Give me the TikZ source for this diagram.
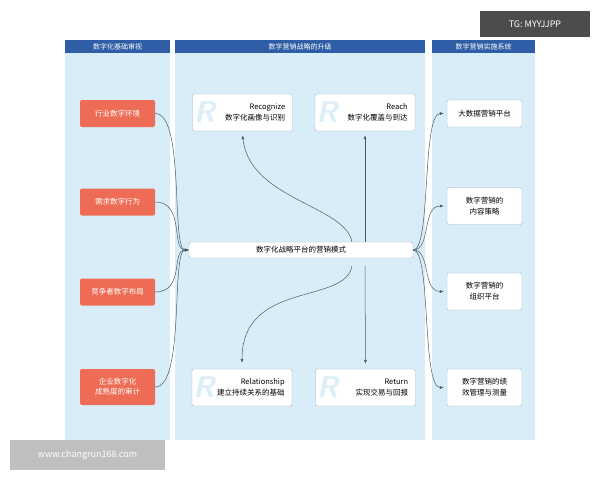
\documentclass[tikz,border=0pt]{standalone}
\usepackage{fontspec}
\setmainfont{Noto Sans CJK SC}
\usetikzlibrary{arrows.meta}
\definecolor{bgc}{HTML}{D8EDF8}
\definecolor{hdr}{HTML}{2F5DA6}
\definecolor{org}{HTML}{EE6C55}
\definecolor{bdr}{HTML}{9FB6C6}
\definecolor{lnc}{HTML}{4A5A66}
\definecolor{rc}{HTML}{DCEEF7}
\tikzset{
 col/.style={fill=bgc,draw=none},
 hd/.style={fill=hdr,text=white,font=\fontsize{7}{8}\selectfont,inner sep=0pt},
 obox/.style={fill=org,rounded corners=2pt,text=white,font=\fontsize{7.5}{10}\selectfont,align=center,inner sep=0pt},
 wbox/.style={fill=white,draw=bdr,rounded corners=2pt,font=\fontsize{7.5}{11}\selectfont,align=center,inner sep=0pt},
 rbox/.style={fill=white,draw=bdr,rounded corners=2pt,inner sep=0pt},
 rtxt/.style={font=\fontsize{7.5}{11}\selectfont,align=right,anchor=east},
 bigR/.style={text=rc,font=\sffamily\bfseries\itshape\fontsize{30}{30}\selectfont,anchor=west},
 con/.style={draw=lnc,line width=0.5pt,-{Latex[length=4pt,width=3pt]}},
}
\begin{document}
\begin{tikzpicture}[x=1pt,y=-1pt]
\useasboundingbox (0,0) rectangle (600,480);
\fill[white] (0,0) rectangle (600,480);
% columns
\fill[bgc] (65,40) rectangle (170,440);
\fill[bgc] (175,40) rectangle (425,440);
\fill[bgc] (432,40) rectangle (535,440);
\node[hd,minimum width=105pt,minimum height=13pt] (h1) at (117.5,46.5) {数字化基础审视};
\node[hd,minimum width=250pt,minimum height=13pt] (h2) at (300,46.5) {数字营销战略的升级};
\node[hd,minimum width=103pt,minimum height=13pt] (h3) at (483.5,46.5) {数字营销实施系统};
% left
\node[obox,minimum width=75pt,minimum height=27pt] (l1) at (117.5,113.5) {行业数字环境};
\node[obox,minimum width=75pt,minimum height=27pt] (l2) at (117.5,202) {需求数字行为};
\node[obox,minimum width=75pt,minimum height=27pt] (l3) at (117.5,292) {竞争者数字布局};
\node[obox,minimum width=75pt,minimum height=36pt] (l4) at (117.5,387) {企业数字化\\成熟度的审计};
% center bar
\node[wbox,minimum width=224pt,minimum height=16pt] (c) at (301,250) {数字化战略平台的营销模式};
% R boxes
\foreach \n/\x/\y/\a/\b in {r1/242.5/112.5/Recognize/数字化画像与识别, r2/365/112.5/Reach/数字化覆盖与到达, r3/242/387.5/Relationship/建立持续关系的基础, r4/365.5/387.5/Return/实现交易与回报}{
 \node[rbox,minimum width=100pt,minimum height=37pt] (\n) at (\x,\y) {};
 \node[bigR] at ([xshift=-2pt]\n.west) {R};
 \node[rtxt] at ([xshift=-4pt]\n.east) {\a\\\b};
}
% right
\node[wbox,minimum width=75pt,minimum height=27pt] (p1) at (484.5,113.5) {大数据营销平台};
\node[wbox,minimum width=75pt,minimum height=37pt] (p2) at (484.5,206) {数字营销的\\内容策略};
\node[wbox,minimum width=75pt,minimum height=37pt] (p3) at (484.5,291.5) {数字营销的\\组织平台};
\node[wbox,minimum width=75pt,minimum height=37pt] (p4) at (484.5,387.5) {数字营销的绩\\效管理与测量};
% connectors left
\foreach \l in {l1,l2,l3,l4}{
 \draw[con] (\l.east) .. controls +(30,0) and +(-18,0) .. (c.west);
}
% connectors right
\foreach \p in {p1,p2,p3,p4}{
 \draw[con] (c.east) .. controls +(18,0) and +(-22,0) .. ([xshift=-3pt]\p.west);
}
% up/down
\coordinate (u1) at (352,242);
\coordinate (u2) at (365,242);
\coordinate (d1) at (352,266);
\coordinate (d2) at (365,266);
\draw[con] (u2) -- ([yshift=-4pt]r2.south);
\draw[con] (u1) .. controls (345,205) and (250,200) .. ([yshift=-4pt]r1.south);
\draw[con] (d2) -- ([yshift=5pt]r4.north);
\draw[con] (d1) .. controls (345,305) and (242,280) .. ([yshift=6pt]r3.north);
% watermarks
\node[fill=black!70,text=white,font=\fontsize{9}{10}\selectfont,minimum width=110pt,minimum height=26pt,inner sep=0pt] (wm1) at (535,24) {TG: MYYJJPP};
\node[fill=black!25,text=white,font=\fontsize{9}{10}\selectfont,minimum width=155pt,minimum height=30pt,inner sep=0pt] (wm2) at (87.5,455) {www.changrun168.com};
\end{tikzpicture}
\end{document}
